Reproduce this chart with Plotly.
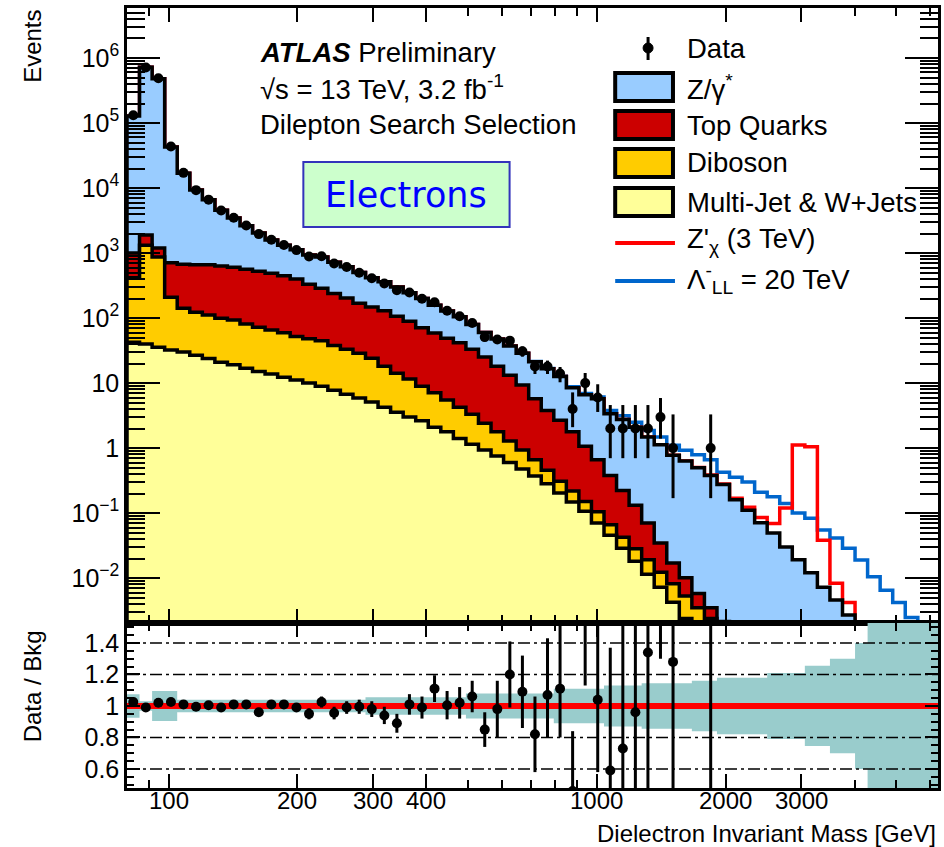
import numpy as np
import plotly.graph_objects as go

# ---------------------------------------------------------------------------
# Binning: constant width in log(m_ee)
# ---------------------------------------------------------------------------
M_MIN = 80.0
LOG_BIN_WIDTH = 0.0293
N_BINS = 65
edges = M_MIN * 10 ** (LOG_BIN_WIDTH * np.arange(N_BINS + 1))
centers = np.sqrt(edges[:-1] * edges[1:])

# ---------------------------------------------------------------------------
# Expected events per bin, by background process
# ---------------------------------------------------------------------------
multijet = [42.7, 39.8, 35.5, 32.4, 30.2, 26.9, 24.0, 20.9, 19.1, 17.0,
            15.1, 13.8, 12.3, 11.2, 10.0, 8.91, 7.76, 6.76, 5.89, 5.13,
            4.27, 3.55, 3.02, 2.63, 2.09, 1.78, 1.41, 1.15, 0.933, 0.759,
            0.603, 0.479, 0.372, 0.282, 0.204, 0.148, 0.107, 0.0708, 0.0457, 0.0288,
            0.0182, 0.0115, 0.00724, 0.00427, 0.0024, 0.00141, 0.00079, 0.00045, 0.00025, 0.00014,
            8e-5, 5e-5, 3e-5, 2e-5, 1e-5, 6e-6, 4e-6, 2e-6, 1e-6, 1e-6,
            1e-6, 1e-6, 1e-6, 1e-6, 1e-6]

diboson = [374, 1278, 836, 177, 111, 96, 88, 79, 74, 64,
           57, 52, 47, 41, 38, 35.8, 30.2, 26.3, 22.9, 18.9,
           13.9, 10.6, 8.5, 6.28, 4.99, 3.72, 2.86, 2.16, 1.47, 1.02,
           0.687, 0.454, 0.289, 0.175, 0.105, 0.071, 0.044, 0.034, 0.0204, 0.0139,
           0.0100, 0.0076, 0.0051, 0.0039, 0.0029, 0.0021, 0.0016, 0.0010, 0.0006, 0.0004,
           2.5e-4, 1.5e-4, 1e-4, 6e-5, 4e-5, 2.5e-5, 1.5e-5, 1e-5, 6e-6, 4e-6,
           2e-6, 1e-6, 1e-6, 1e-6, 1e-6]

top_quarks = [583, 587, 331, 499, 535, 538, 549, 531, 510, 481,
              453, 424, 388, 346, 283, 243, 202, 171, 141, 124,
              111, 93, 77.6, 61.9, 51.8, 43.5, 37.4, 29.8, 22.7, 16.4,
              11.9, 8.40, 5.09, 3.34, 2.38, 1.56, 0.92, 0.556, 0.314, 0.181,
              0.104, 0.0517, 0.0224, 0.0089, 0.0048, 0.0023, 0.0011, 0.0007, 0.0004, 0.0002,
              1e-4, 6e-5, 3e-5, 2e-5, 1e-5, 6e-6, 3e-6, 2e-6, 1e-6, 1e-6,
              1e-6, 1e-6, 1e-6, 1e-6, 1e-6]

drell_yan = [127800, 722500, 477400, 41950, 16300, 8670, 5950, 3940, 2864, 2068,
             1517, 1095, 871, 724, 602, 583, 484, 413, 331, 269,
             234, 195, 156, 129, 99, 80, 63, 46.3, 35.2, 29.7,
             24.0, 19.5, 15.6, 12.8, 9.9, 6.73, 5.54, 5.09, 3.01, 2.53,
             1.96, 1.41, 1.09, 0.759, 0.621, 0.495, 0.377, 0.273, 0.16, 0.11,
             0.071, 0.049, 0.030, 0.019, 0.012, 0.0072, 0.0046, 0.0027, 0.0015, 0.0009,
             0.0005, 0.0003, 0.00018, 0.0001, 0.00006]

# Signal hypotheses (added on top of the total background)
zprime_signal = [0.0] * 44 + [0.003, 0.004, 0.005, 0.006, 0.008, 0.012, 0.014, 0.02, 0.09,
                              1.10, 1.04, 0.031, 0.0037, 0.0015, 0.0006, 0.0003, 0.0001,
                              0.0, 0.0, 0.0, 0.0]
ci_signal = [0.0] * 30 + [0.05, 0.08, 0.12, 0.15, 0.2, 0.25, 0.3, 0.35, 0.4, 0.4,
                          0.4, 0.38, 0.36, 0.33, 0.3, 0.29, 0.28, 0.15, 0.195, 0.19,
                          0.138, 0.129, 0.111, 0.081, 0.071, 0.048, 0.037, 0.026, 0.0175, 0.0096,
                          0.006, 0.0039, 0.0023, 0.001, 0.0005]

# Observed data
data = [132000, 717000, 488000, 43700, 17150, 9290, 6640, 4525, 3500, 2655,
        1960, 1600, 1331, 1111, 886, 893, 691, 611, 499, 409,
        341, 269, 247, 198, 175, 130, 107, 84, 51, 47,
        45, 31, 18, 18, 14, 4, 10, 6, 2, 2,
        2, 2, 3, 1, None, None, 1, None, None, None,
        None, None, None, None, None, None, None, None, None, None,
        None, None, None, None, None]
data_err_up = [363, 847, 699, 209, 131, 96, 81, 67, 59, 52,
               44, 40, 36, 33, 30, 30, 26, 25, 22, 20,
               18.5, 16.4, 15.7, 14.1, 13.2, 11.4, 10.3, 9.2, 7.1, 6.9,
               6.7, 5.6, 4.2, 4.2, 3.7, 3.2, 4.3, 3.6, 2.6, 2.6,
               2.6, 2.6, 2.9, 2.3, 0, 0, 2.3, 0, 0, 0,
               0, 0, 0, 0, 0, 0, 0, 0, 0, 0,
               0, 0, 0, 0, 0]
data_err_dn = [363, 847, 699, 209, 131, 96, 81, 67, 59, 52,
               44, 40, 36, 33, 30, 30, 26, 25, 22, 20,
               18.5, 16.4, 15.7, 14.1, 13.2, 11.4, 10.3, 9.2, 7.1, 6.8,
               6.7, 5.5, 4.2, 4.2, 3.7, 1.9, 3.1, 2.4, 1.3, 1.3,
               1.3, 1.3, 1.6, 0.83, 0, 0, 0.83, 0, 0, 0,
               0, 0, 0, 0, 0, 0, 0, 0, 0, 0,
               0, 0, 0, 0, 0]

# Data / background ratio with its statistical uncertainty
ratio = [1.025, 0.99, 1.02, 1.025, 1.01, 0.995, 1.005, 0.99, 1.01, 1.01,
         0.96, 1.01, 1.01, 0.99, 0.95, 1.025, 0.955, 0.99, 0.995, 0.98,
         0.94, 0.89, 1.01, 0.99, 1.11, 1.005, 1.02, 1.06, 0.85, 0.98,
         1.20, 1.09, 0.82, 1.07, 1.11, 0.46, 1.62, 1.04, 0.59, 0.73,
         0.96, 1.34, 2.4, 1.28, None, None, 2.6, None, None, None,
         None, None, None, None, None, None, None, None, None, None,
         None, None, None, None, None]
ratio_err_up = [0.01, 0.01, 0.01, 0.01, 0.01, 0.01, 0.01, 0.01, 0.01, 0.01,
                0.01, 0.01, 0.01, 0.01, 0.035, 0.035, 0.04, 0.04, 0.045, 0.05,
                0.055, 0.06, 0.065, 0.07, 0.085, 0.09, 0.10, 0.10, 0.11, 0.18,
                0.21, 0.23, 0.24, 0.36, 0.40, 0.38, 0.8, 0.62, 0.78, 0.95,
                1.2, 1.7, 2.5, 2.9, 0, 0, 6.0, 0, 0, 0,
                0, 0, 0, 0, 0, 0, 0, 0, 0, 0,
                0, 0, 0, 0, 0]
ratio_err_dn = [0.01, 0.01, 0.01, 0.01, 0.01, 0.01, 0.01, 0.01, 0.01, 0.01,
                0.01, 0.01, 0.01, 0.01, 0.035, 0.035, 0.04, 0.04, 0.045, 0.05,
                0.055, 0.06, 0.065, 0.07, 0.085, 0.09, 0.10, 0.10, 0.11, 0.18,
                0.21, 0.23, 0.24, 0.27, 0.31, 0.22, 0.49, 0.46, 0.29, 0.48,
                0.6, 0.9, 1.1, 1.05, 0, 0, 2.2, 0, 0, 0,
                0, 0, 0, 0, 0, 0, 0, 0, 0, 0,
                0, 0, 0, 0, 0]
# Relative systematic uncertainty on the background (band half-width)
bkg_syst = [0.075, 0.03, 0.095, 0.095, 0.04, 0.04, 0.04, 0.04, 0.04, 0.04,
            0.04, 0.04, 0.04, 0.04, 0.04, 0.04, 0.04, 0.04, 0.04, 0.055,
            0.055, 0.055, 0.055, 0.055, 0.055, 0.055, 0.055, 0.08, 0.08, 0.08,
            0.08, 0.08, 0.08, 0.08, 0.11, 0.11, 0.11, 0.11, 0.13, 0.13,
            0.13, 0.145, 0.145, 0.145, 0.145, 0.16, 0.16, 0.18, 0.18, 0.18,
            0.18, 0.21, 0.21, 0.21, 0.255, 0.255, 0.30, 0.30, 0.40, 0.7,
            0.7, 0.7, 0.7, 0.7, 0.7]

# Axis ticks
x_tick_vals = [100, 200, 300, 400, 1000, 2000, 3000]
x_minor_vals = [80, 90, 500, 600, 700, 800, 900, 4000, 5000, 6000]
y_tick_vals = [1e-2, 1e-1, 1, 10, 1e2, 1e3, 1e4, 1e5, 1e6]
y_tick_text = ["10<sup>\u22122</sup>", "10<sup>\u22121</sup>", "1", "10", "10<sup>2</sup>",
               "10<sup>3</sup>", "10<sup>4</sup>", "10<sup>5</sup>", "10<sup>6</sup>"]
r_tick_vals = [0.6, 0.8, 1.0, 1.2, 1.4]
r_tick_text = ["0.6", "0.8", "1", "1.2", "1.4"]

# ---------------------------------------------------------------------------
# Colours and page geometry
# ---------------------------------------------------------------------------
C_DY = "#99ccff"
C_TOP = "#cc0000"
C_DIB = "#ffcc00"
C_MJ = "#ffff99"
C_ZP = "#ff0000"
C_CI = "#0066cc"
C_BAND = "#99cccc"
FONT = "Liberation Sans, Arial, Helvetica, sans-serif"

W, H = 944, 847
L_M, R_M, T_M, B_M = 127, 3, 8, 59
PW, PH = W - L_M - R_M, H - T_M - B_M
SPLIT = (788 - 623) / PH          # ratio panel fraction of the plot height
FLOOR = 1e-7


def px(x):
    return (x - L_M) / PW


def py(y):
    return (H - B_M - y) / PH


def steps(vals):
    xs, ys = [], []
    for i, v in enumerate(vals):
        xs += [edges[i], edges[i + 1]]
        ys += [v, v]
    return xs, ys


def filled_hist(vals, color):
    xs, ys = steps(vals)
    xs = [edges[0]] + xs + [edges[-1]]
    ys = [FLOOR] + ys + [FLOOR]
    return go.Scatter(x=xs, y=ys, mode="lines", fill="toself", fillcolor=color,
                      line=dict(color="black", width=3.5), hoverinfo="skip",
                      showlegend=False, xaxis="x", yaxis="y")


mj = np.array(multijet)
lvl_a = mj
lvl_b = lvl_a + np.array(diboson)
lvl_c = lvl_b + np.array(top_quarks)
total = lvl_c + np.array(drell_yan)

fig = go.Figure()

# signal hypotheses (drawn first, so the stack outline sits on top where they coincide)
for sig, col in ((ci_signal, C_CI), (zprime_signal, C_ZP)):
    xs, ys = steps(total + np.array(sig))
    fig.add_trace(go.Scatter(x=xs, y=ys, mode="lines", line=dict(color=col, width=3.5),
                             hoverinfo="skip", showlegend=False, xaxis="x", yaxis="y"))

# stacked backgrounds
fig.add_trace(filled_hist(total, C_DY))
fig.add_trace(filled_hist(lvl_c, C_TOP))
fig.add_trace(filled_hist(lvl_b, C_DIB))
fig.add_trace(filled_hist(lvl_a, C_MJ))

# data
fig.add_trace(go.Scatter(
    x=centers, y=data, mode="markers",
    marker=dict(color="black", size=10),
    error_y=dict(type="data", symmetric=False, array=data_err_up, arrayminus=data_err_dn,
                 color="black", thickness=3, width=0),
    showlegend=False, xaxis="x", yaxis="y"))

# ratio panel: background uncertainty band
up = [1 + s for s in bkg_syst]
dn = [1 - s for s in bkg_syst]
ux, uy = steps(up)
dx, dy = steps(dn)
fig.add_trace(go.Scatter(x=ux + dx[::-1], y=uy + dy[::-1], mode="lines", fill="toself",
                         fillcolor=C_BAND, line=dict(width=0, color=C_BAND),
                         hoverinfo="skip", showlegend=False, xaxis="x2", yaxis="y2"))

for g in (0.6, 0.8, 1.2, 1.4):
    fig.add_trace(go.Scatter(x=[edges[0], edges[-1]], y=[g, g], mode="lines",
                             line=dict(color="black", width=1.5, dash="12px,4px,3px,4px"),
                             hoverinfo="skip", showlegend=False, xaxis="x2", yaxis="y2"))

fig.add_trace(go.Scatter(x=[edges[0], edges[-1]], y=[1, 1], mode="lines",
                         line=dict(color=C_ZP, width=6), hoverinfo="skip",
                         showlegend=False, xaxis="x2", yaxis="y2"))

fig.add_trace(go.Scatter(
    x=centers, y=ratio, mode="markers",
    marker=dict(color="black", size=10),
    error_y=dict(type="data", symmetric=False, array=ratio_err_up, arrayminus=ratio_err_dn,
                 color="black", thickness=3, width=0),
    showlegend=False, xaxis="x2", yaxis="y2"))

# ---------------------------------------------------------------------------
# Axes
# ---------------------------------------------------------------------------
x_range = [np.log10(M_MIN), np.log10(M_MIN) + PW / 430.0]
axis_common = dict(showline=True, linecolor="black", linewidth=2.5, mirror="allticks",
                   ticks="inside", tickcolor="black", tickwidth=2, showgrid=False,
                   zeroline=False, tickfont=dict(family=FONT, size=25, color="black"))

y_minor = [m * 10.0 ** e for e in range(-3, 7) for m in range(2, 10)]
r_minor = list(np.round(np.arange(0.45, 1.56, 0.05), 2))

fig.update_layout(
    width=W, height=H,
    margin=dict(l=L_M, r=R_M, t=T_M, b=B_M),
    paper_bgcolor="white", plot_bgcolor="white",
    showlegend=False,
    xaxis=dict(axis_common, type="log", range=x_range, domain=[0, 1], anchor="y",
               tickvals=x_tick_vals, ticklen=14, showticklabels=False,
               minor=dict(tickvals=x_minor_vals, ticklen=8, ticks="inside",
                          tickcolor="black", tickwidth=2)),
    yaxis=dict(axis_common, type="log", range=[-2.69, 6.77], domain=[SPLIT, 1], anchor="x",
               tickvals=y_tick_vals, ticktext=y_tick_text, ticklen=33,
               minor=dict(tickvals=y_minor, ticklen=18, ticks="inside",
                          tickcolor="black", tickwidth=2)),
    xaxis2=dict(axis_common, type="log", range=x_range, domain=[0, 1], anchor="y2",
                matches="x", tickvals=x_tick_vals, ticklen=14, showticklabels=False,
                minor=dict(tickvals=x_minor_vals, ticklen=8, ticks="inside",
                           tickcolor="black", tickwidth=2)),
    yaxis2=dict(axis_common, range=[0.479, 1.527], domain=[0, SPLIT], anchor="x2",
                tickvals=r_tick_vals, ticktext=r_tick_text, ticklen=13,
                minor=dict(tickvals=r_minor, ticklen=7, ticks="inside",
                           tickcolor="black", tickwidth=2)),
)

# ---------------------------------------------------------------------------
# Titles, labels, legend
# ---------------------------------------------------------------------------
ann = []


def text(x, y, s, size=27.5, xanchor="left", yanchor="middle", color="black",
         family=FONT, angle=0):
    ann.append(dict(x=px(x), y=py(y), xref="paper", yref="paper", text=s,
                    showarrow=False, xanchor=xanchor, yanchor=yanchor, textangle=angle,
                    font=dict(family=family, size=size, color=color)))


# mass-axis tick labels
for v in x_tick_vals:
    ann.append(dict(x=np.log10(v), y=py(800), xref="x2", yref="paper", text=str(v),
                    showarrow=False, xanchor="center", yanchor="middle",
                    font=dict(family=FONT, size=24, color="black")))

text(32, 8, "Events", size=24, xanchor="center", yanchor="top", angle=-90)
text(32, 686, "Data / Bkg", size=24, xanchor="center", angle=-90)
text(941, 833, "Dielectron Invariant Mass [GeV]", size=24, xanchor="right")

text(258, 52, "<b><i>ATLAS</i></b> Preliminary")
text(258, 88, "\u221as = 13 TeV, 3.2 fb<sup>-1</sup>")
text(258, 124, "Dilepton Search Selection")

text(407.5, 195, "Electrons", size=35, xanchor="center", color="#0000ff",
     family="DejaVu Sans, sans-serif")

legend_rows = [("Data", 48), ("Z/\u03b3<sup>*</sup>", 88), ("Top Quarks", 125),
               ("Diboson", 163), ("Multi-Jet & W+Jets", 202),
               ("Z'<sub>\u03c7</sub> (3 TeV)", 240),
               ("\u039b<sup>-</sup><sub>LL</sub> = 20 TeV", 279)]
for label, yy in legend_rows:
    text(687, yy, label)

shapes = [
    dict(type="rect", xref="paper", yref="paper", x0=px(304), x1=px(511), y0=py(227),
         y1=py(162), fillcolor="#ccffcc", line=dict(color="#3333bb", width=2), layer="above"),
]
for (y0, y1), col in zip(((73, 101), (111, 139), (149, 177), (188, 216)),
                         (C_DY, C_TOP, C_DIB, C_MJ)):
    shapes.append(dict(type="rect", xref="paper", yref="paper", x0=px(617), x1=px(675),
                       y0=py(y1), y1=py(y0), fillcolor=col,
                       line=dict(color="black", width=4), layer="above"))
shapes.append(dict(type="line", xref="paper", yref="paper", x0=px(617), x1=px(677),
                   y0=py(243), y1=py(243), line=dict(color=C_ZP, width=4), layer="above"))
shapes.append(dict(type="line", xref="paper", yref="paper", x0=px(617), x1=px(677),
                   y0=py(281), y1=py(281), line=dict(color=C_CI, width=4), layer="above"))
shapes.append(dict(type="line", xref="paper", yref="paper", x0=px(650), x1=px(650),
                   y0=py(37), y1=py(60), line=dict(color="black", width=3), layer="above"))
shapes.append(dict(type="circle", xref="paper", yref="paper", x0=px(645), x1=px(655),
                   y0=py(53), y1=py(43), fillcolor="black", line=dict(color="black", width=1),
                   layer="above"))

fig.update_layout(annotations=ann, shapes=shapes)

fig.write_html("out.html")
